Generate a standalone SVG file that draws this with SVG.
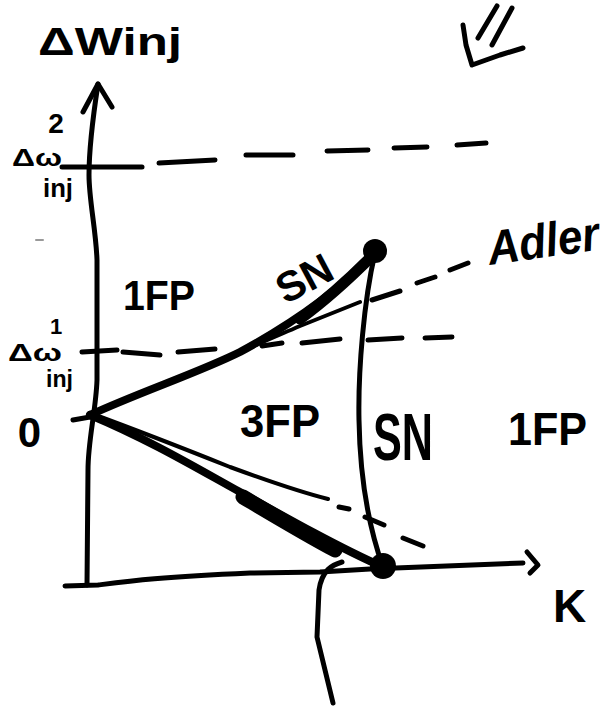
<svg xmlns="http://www.w3.org/2000/svg" width="613" height="710" viewBox="0 0 613 710">
<style>
.ln{fill:none;stroke:#000;stroke-width:5;stroke-linecap:round;stroke-linejoin:round}
.thin{fill:none;stroke:#000;stroke-width:4;stroke-linecap:round;stroke-linejoin:round}
.thick{fill:none;stroke:#000;stroke-width:8;stroke-linecap:round;stroke-linejoin:round}
.heavy{fill:none;stroke:#000;stroke-width:15;stroke-linecap:round;stroke-linejoin:round}
.dash{fill:none;stroke:#000;stroke-width:5;stroke-linecap:round}
.t{font-family:"Liberation Sans",Arial,sans-serif;font-weight:bold;fill:#000}
.it{font-family:"Liberation Sans",Arial,sans-serif;font-style:italic;font-weight:bold;fill:#000}
</style>
<rect width="613" height="710" fill="#fff"/>
<g id="axes">
  <path class="ln" d="M98,84 C94,110 89,150 89,175 C89,200 96,230 97,260 L97,380 C96,410 88,440 88,470 L87,585"/>
  <path class="ln" d="M83,112 L98,84 L112,107"/>
  <path class="ln" d="M65,586 L98,585 C130,581 160,577 250,573 L320,572 L370,569 L523,563"/>
  <path class="ln" d="M527,552 L538,565 L530,573"/>
  <path class="ln" d="M73,420 L90,417"/>
</g>
<g id="guides">
  <path class="dash" d="M62,167 L142,167"/>
  <path class="dash" d="M159,163 L215,160 M246,155 L293,155 M327,151 L368,150 M394,148 L427,147 M457,145 L486,143"/>
  <path class="dash" d="M82,352 L117,350"/>
  <path class="dash" d="M123,352 L160,355 M178,352 L215,349 M262,346 L282,343 M302,343 L340,339 M368,340 L402,338 M425,338 L452,337"/>
  <path class="dash" d="M372,300 L400,291 M417,283 L435,277 M450,270 L468,263"/>
  <path class="dash" d="M339,507 L349,509 M365,517 L384,525 M403,538 L423,546"/>
  <path d="M36,240 L43,240" stroke="#999" stroke-width="2" stroke-linecap="round"/>
</g>
<g id="connectors">
  <path class="thin" d="M90,414 C160,387 230,356 300,326 L360,302"/>
  <path class="thick" d="M90,415 C140,392 200,372 240,352 C290,325 340,290 376,252"/>
  <path fill="none" stroke="#000" stroke-width="11" stroke-linecap="round" d="M300,319 C330,297 352,276 372,256"/>
  <path class="thin" d="M90,413 C150,435 200,455 230,467 C260,478 300,492 328,499"/>
  <path class="thick" d="M90,415 C150,440 200,470 240,492 C290,520 340,548 383,567"/>
  <path class="heavy" d="M243,497 C275,516 305,534 335,550"/>
  <path class="ln" d="M375,253 C364,300 358,370 359,420 C360,480 368,525 383,567"/>
  <path class="ln" d="M342,562 C332,565 322,570 319,590 L317,637 L333,703"/>
</g>
<g id="point-cusp-top"><circle cx="375" cy="251" r="12"/></g>
<g id="point-cusp-bottom"><circle cx="383" cy="566" r="13"/></g>
<g id="mark-arrow">
  <path class="ln" d="M463,25 L466,45 L472,65 L500,55 L523,48"/>
  <path class="ln" d="M478,38 L497,6 M492,45 L512,8"/>
</g>
<g id="labels">
  <text class="t" x="38" y="55" font-size="38" textLength="144" lengthAdjust="spacingAndGlyphs">ΔWinj</text>
  <text class="t" x="12" y="166" font-size="24" textLength="50" lengthAdjust="spacingAndGlyphs">Δω</text>
  <text class="t" x="56" y="133" font-size="28" text-anchor="middle">2</text>
  <text class="t" x="43" y="197" font-size="26" textLength="30" lengthAdjust="spacingAndGlyphs">inj</text>
  <text class="t" x="8" y="361" font-size="24" textLength="54" lengthAdjust="spacingAndGlyphs">Δω</text>
  <text class="t" x="56" y="334" font-size="22" text-anchor="middle">1</text>
  <text class="t" x="46" y="387" font-size="24" textLength="27" lengthAdjust="spacingAndGlyphs">inj</text>
  <text class="t" x="29.5" y="447" font-size="42" text-anchor="middle">0</text>
  <text class="t" x="123" y="310" font-size="42" textLength="72" lengthAdjust="spacingAndGlyphs">1FP</text>
  <text class="t" x="304" y="293" font-size="42" text-anchor="middle" textLength="58" lengthAdjust="spacingAndGlyphs" transform="rotate(-28 304 278)">SN</text>
  <text class="it" x="490" y="265" font-size="48" textLength="112" lengthAdjust="spacingAndGlyphs" transform="rotate(-8 490 265)">Adler</text>
  <text class="t" x="240" y="437" font-size="46" textLength="80" lengthAdjust="spacingAndGlyphs">3FP</text>
  <text class="t" x="373" y="460" font-size="66" textLength="60" lengthAdjust="spacingAndGlyphs">SN</text>
  <text class="t" x="508" y="445" font-size="46" textLength="79" lengthAdjust="spacingAndGlyphs">1FP</text>
  <text class="t" x="553" y="622" font-size="46">K</text>
</g>
</svg>
